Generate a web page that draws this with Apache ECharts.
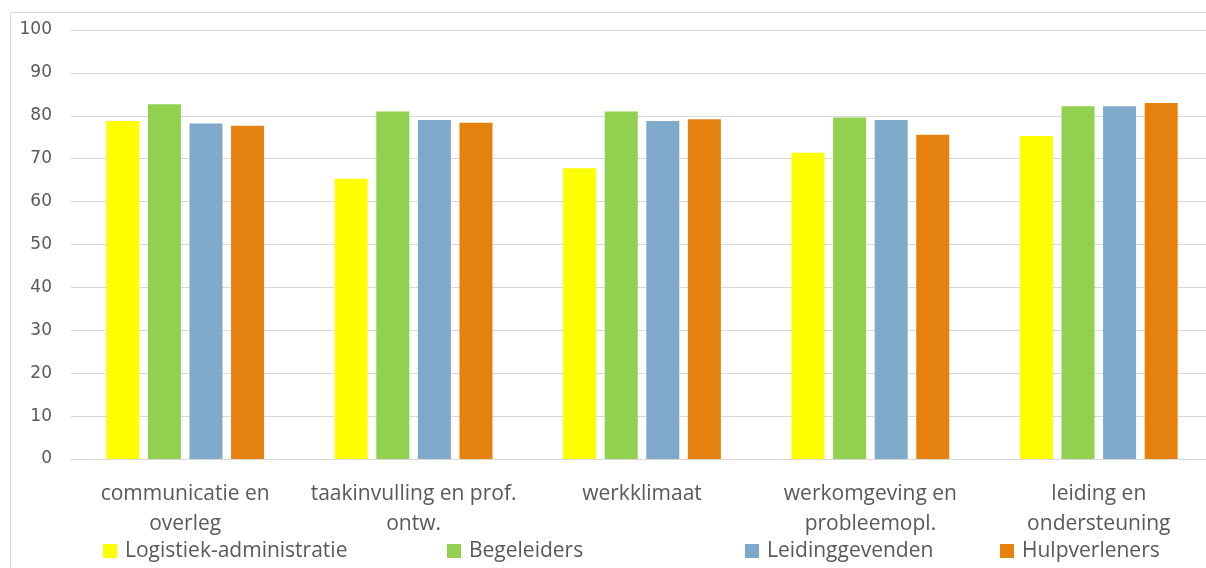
<!DOCTYPE html>
<html>
<head>
<meta charset="utf-8">
<script src="https://cdn.jsdelivr.net/npm/echarts@6/dist/echarts.min.js"></script>
<style>
  html, body { margin: 0; padding: 0; background: #ffffff; overflow: hidden; }
  #chart { width: 1230px; height: 568px; }
</style>
</head>
<body>
<div id="chart"></div>
<script>
// Werkbeleving per domein, gemiddelde score per functiegroep
const categories = [
  'communicatie en\noverleg',
  'taakinvulling en prof.\nontw.',
  'werkklimaat',
  'werkomgeving en\nprobleemopl.',
  'leiding en\nondersteuning'
];
const seriesNames = ['Logistiek-administratie', 'Begeleiders', 'Leidinggevenden', 'Hulpverleners'];
const logistiekAdministratie = [78.8, 65.3, 67.8, 71.4, 75.3];
const begeleiders = [82.7, 81.0, 81.0, 79.6, 82.2];
const leidinggevenden = [78.2, 79.0, 78.8, 79.0, 82.2];
const hulpverleners = [77.7, 78.4, 79.2, 75.6, 83.0];
const yTicks = [0, 10, 20, 30, 40, 50, 60, 70, 80, 90, 100];

const colors = ['#FFFF00', '#92D050', '#7FA9CB', '#E5820F'];
const values = [logistiekAdministratie, begeleiders, leidinggevenden, hulpverleners];
const textColor = '#595959';
const fontFamily = '"Open Sans", "DejaVu Sans", sans-serif';

// one legend block per entry, spread along the bottom row
const legendLeft = [103, 447, 745, 1000];

const chart = echarts.init(document.getElementById('chart'), null, { renderer: 'canvas' });

chart.setOption({
  animation: false,
  color: colors,
  textStyle: { fontFamily: fontFamily },
  // the plot runs slightly past the right edge of the visible page
  grid: { left: 71, top: 30, width: 1142, height: 429, containLabel: false },
  graphic: [{
    type: 'rect',
    shape: { x: 10.5, y: 12.5, width: 1400, height: 1000 },
    style: { fill: 'none', stroke: '#D9D9D9', lineWidth: 1 },
    silent: true,
    z: 0
  }],
  legend: seriesNames.map((name, i) => ({
    data: [name],
    left: legendLeft[i],
    top: 540,
    padding: 0,
    itemWidth: 14,
    itemHeight: 14,
    itemGap: 0,
    icon: 'rect',
    textStyle: { color: textColor, fontSize: 21, lineHeight: 22, fontFamily: fontFamily, padding: [0, 0, 0, 3] }
  })),
  xAxis: {
    type: 'category',
    data: categories,
    axisLine: { show: true, lineStyle: { color: '#D9D9D9', width: 1 } },
    axisTick: { show: false },
    axisLabel: {
      color: textColor,
      fontSize: 21,
      lineHeight: 30,
      margin: 20,
      interval: 0,
      fontFamily: fontFamily
    }
  },
  yAxis: {
    type: 'value',
    min: yTicks[0],
    max: yTicks[yTicks.length - 1],
    interval: 10,
    axisLine: { show: false },
    axisTick: { show: false },
    splitLine: { lineStyle: { color: '#D9D9D9', width: 1 } },
    axisLabel: { color: textColor, fontSize: 17, margin: 19, fontFamily: '"DejaVu Sans", sans-serif' }
  },
  series: seriesNames.map((name, i) => ({
    name: name,
    type: 'bar',
    data: values[i],
    barWidth: 33,
    barGap: '26%',
    itemStyle: { color: colors[i] }
  }))
});
</script>
</body>
</html>
